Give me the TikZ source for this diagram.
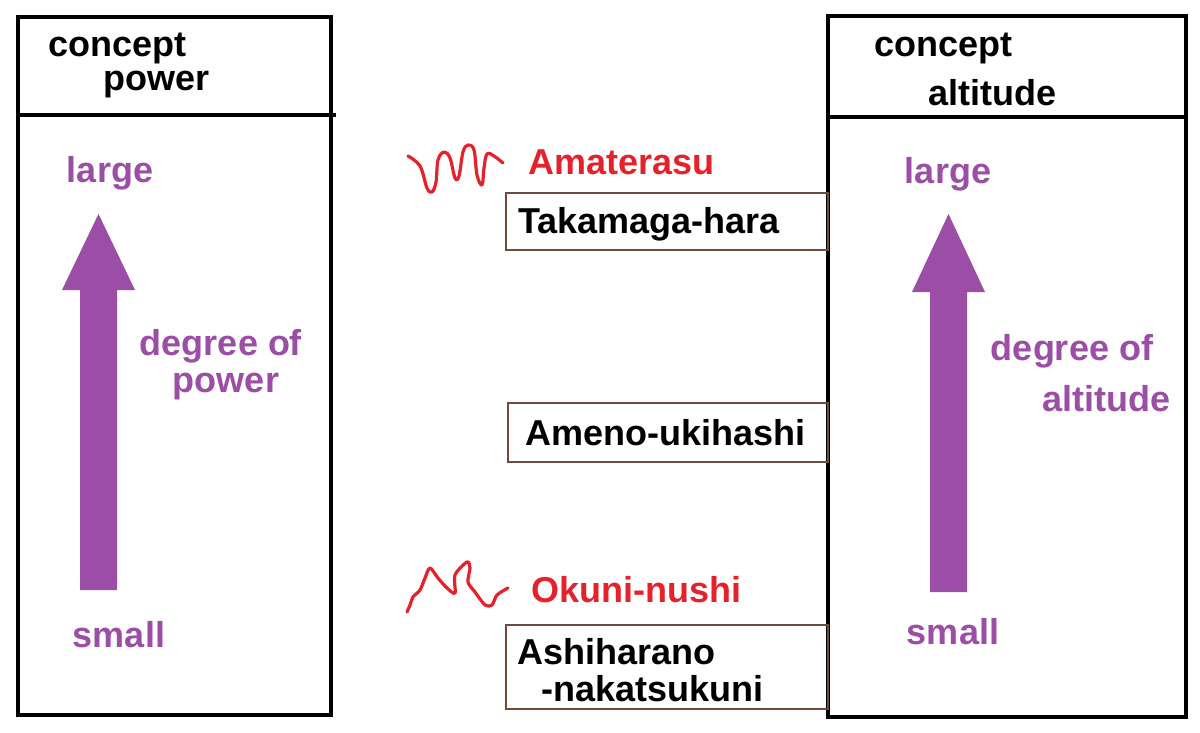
\documentclass[tikz,border=0pt]{standalone}
\usepackage{fontspec}
\setmainfont{Liberation Sans}
\begin{document}
\begin{tikzpicture}[x=0.5pt,y=-0.5pt,
  lbl/.style={font=\fontsize{18pt}{21pt}\selectfont\bfseries, inner sep=0pt, yshift=-1.1pt},
  blk/.style={lbl, text=black},
  pur/.style={lbl, text=arrowpurple},
  redl/.style={lbl, text=squigred},
  bigbox/.style={draw=black, line width=2pt},
  placebox/.style={draw=boxbrown, line width=1.2pt},
  squig/.style={draw=squigred, line width=1.6pt, line cap=round, line join=round},
  bigarrow/.style={fill=arrowpurple, draw=none}]
\definecolor{arrowpurple}{HTML}{9C4DA6}
\definecolor{squigred}{HTML}{E5222B}
\definecolor{boxbrown}{HTML}{6E4B3A}
\useasboundingbox (0,0) rectangle (1200,733);
\fill[white] (0,0) rectangle (1200,733);

% left concept box
\draw[bigbox] (18,17) rectangle (331,715);
\draw[bigbox] (18,115) -- (336,115);
\node[blk, anchor=west] (lc) at (48,46) {concept};
\node[blk, anchor=west] (lp) at (103,82) {power};
\node[pur] (ll) at (110,171) {large};
\node[pur] (ls) at (119,632) {small};
\node[pur] (ld1) at (221,344) {degree of};
\node[pur] (ld2) at (226,384) {power};
\fill[bigarrow] (80,590) -- (80,290) -- (62,290) -- (98.5,214) -- (135,290) -- (117,290) -- (117,590) -- cycle;

% right concept box
\draw[bigbox] (828,16) rectangle (1186,717);
\draw[bigbox] (828,117) -- (1188,117);
\node[blk, anchor=west] (rc) at (874,46) {concept};
\node[blk, anchor=west] (ra) at (928,90) {altitude};
\node[pur] (rl) at (948,172) {large};
\node[pur] (rs) at (953,629) {small};
\node[pur] (rd1) at (1072,349) {degree of};
\node[pur] (rd2) at (1106,396) {altitude};
\fill[bigarrow] (930,592) -- (930,292) -- (912,292) -- (948.5,214) -- (985,292) -- (967,292) -- (967,592) -- cycle;

% places
\draw[placebox] (506,193) rectangle (828,250);
\node[blk, anchor=west] (tk) at (518,222) {Takamaga-hara};
\draw[placebox] (508,403) rectangle (828,462);
\node[blk, anchor=west] (am) at (525,430) {Ameno-ukihashi};
\draw[placebox] (506,625) rectangle (828,709);
\node[blk, anchor=west] (as1) at (517,649) {Ashiharano};
\node[blk, anchor=west] (as2) at (541,686) {-nakatsukuni};

% gods
\node[redl, anchor=west] (ama) at (528,160) {Amaterasu};
\node[redl, anchor=west] (oku) at (531,587) {Okuni-nushi};
\draw[squig] plot[smooth, tension=0.6] coordinates {(408,156) (420,166) (427,188) (432,192) (436,182) (438,160) (444,152) (450,158) (455,178) (459,176) (463,152) (468,145) (474,150) (477,175) (482,185) (484,168) (487,154) (494,156) (503,163)};
\draw[squig] plot[smooth, tension=0.5] coordinates {(407,612) (410,605) (413,597) (420,590) (425,578) (430,568) (438,578) (447,588) (455,593) (455,575) (467,562) (470,568) (468,582) (475,592) (485,605) (492,605) (497,595) (508,588)};
\end{tikzpicture}
\end{document}
